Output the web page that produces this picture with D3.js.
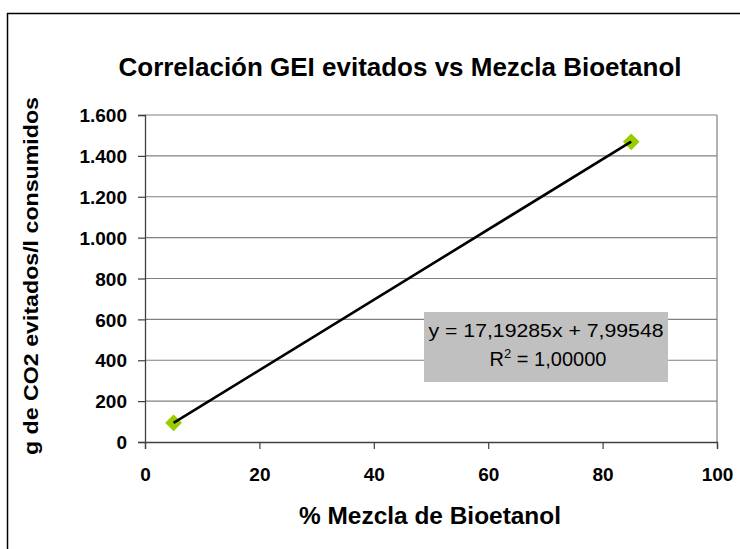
<!DOCTYPE html>
<html>
<head>
<meta charset="utf-8">
<script src="https://cdn.jsdelivr.net/npm/d3@7"></script>
<style>
  body { margin: 0; background: #fff; }
  svg { display: block; font-family: "Liberation Sans", Arial, sans-serif; }
</style>
</head>
<body>
<svg width="740" height="549"></svg>
<script>
// data
const mezcla = [5, 85];
const geiEvitados = [94, 1469];
const xTicks = [0, 20, 40, 60, 80, 100];
const yTicks = [0, 200, 400, 600, 800, 1000, 1200, 1400, 1600];
const slope = 17.19285;
const intercept = 7.99548;

const svg = d3.select('svg');
const W = +svg.attr('width');
const H = +svg.attr('height');

// outer chart border (runs off the page to the right and bottom)
svg.append('rect')
  .attr('x', 7.5).attr('y', 13.5)
  .attr('width', W).attr('height', H)
  .attr('fill', 'none').attr('stroke', '#000').attr('stroke-width', 1.5);

const x = d3.scaleLinear().domain([0, 100]).range([145, 717]);
const y = d3.scaleLinear().domain([0, 1600]).range([442, 115]);

// gridlines
svg.append('g').selectAll('line')
  .data(yTicks.slice(1))
  .enter().append('line')
  .attr('x1', x(0)).attr('x2', x(100))
  .attr('y1', d => y(d)).attr('y2', d => y(d))
  .attr('stroke', '#808080').attr('stroke-width', 1.2);

// right border of plot area
svg.append('line')
  .attr('x1', x(100)).attr('x2', x(100))
  .attr('y1', y(1600)).attr('y2', y(0))
  .attr('stroke', '#808080').attr('stroke-width', 1.2);

// axes
const yAxis = svg.append('g')
  .attr('transform', `translate(${x(0)},0)`)
  .call(d3.axisLeft(y).tickValues(yTicks).tickSize(7).tickPadding(11)
    .tickFormat(d => d3.format(',')(d).replace(/,/g, '.')));
const xAxis = svg.append('g')
  .attr('transform', `translate(0,${y(0)})`)
  .call(d3.axisBottom(x).tickValues(xTicks).tickSize(7).tickPadding(19));

[yAxis, xAxis].forEach(ax => {
  ax.select('.domain').attr('stroke', '#404040').attr('stroke-width', 1.3);
  ax.selectAll('.tick line').attr('stroke', '#404040').attr('stroke-width', 1.2);
  ax.selectAll('.tick text')
    .attr('fill', '#000')
    .style('font-size', '19px')
    .style('font-weight', 'bold')
    .style('font-family', '"Liberation Sans", Arial, sans-serif');
});
yAxis.selectAll('.tick text').attr('dy', '0.35em');

// trend line
const xs = d3.extent(mezcla);
const trend = d3.line()
  .x(d => x(d))
  .y(d => y(slope * d + intercept));

// markers
svg.append('g').selectAll('path')
  .data(mezcla)
  .enter().append('path')
  .attr('d', d3.symbol().type(d3.symbolSquare).size(140)())
  .attr('transform', (d, i) => `translate(${x(d)},${y(geiEvitados[i])}) rotate(45)`)
  .attr('fill', '#99CC00');

svg.append('path')
  .attr('d', trend(xs))
  .attr('fill', 'none')
  .attr('stroke', '#000').attr('stroke-width', 2.6);

// equation box
const box = svg.append('g');
box.append('rect')
  .attr('x', 424).attr('y', 312).attr('width', 244).attr('height', 70)
  .attr('fill', '#C0C0C0');
box.append('text')
  .attr('x', 546).attr('y', 336.5)
  .attr('text-anchor', 'middle')
  .attr('textLength', 235).attr('lengthAdjust', 'spacingAndGlyphs')
  .style('font-size', '19px')
  .text(`y = ${slope.toFixed(5).replace('.', ',')}x + ${intercept.toFixed(5).replace('.', ',')}`);
const r2 = box.append('text')
  .attr('x', 548).attr('y', 365.5)
  .attr('text-anchor', 'middle')
  .style('font-size', '20px');
r2.append('tspan').text('R');
r2.append('tspan').attr('dy', -8).style('font-size', '13px').text('2');
r2.append('tspan').attr('dy', 8).text(' = 1,00000');

// titles
svg.append('text')
  .attr('x', 400).attr('y', 76)
  .attr('text-anchor', 'middle')
  .attr('textLength', 563).attr('lengthAdjust', 'spacingAndGlyphs')
  .style('font-size', '25px').style('font-weight', 'bold')
  .text('Correlación GEI evitados vs Mezcla Bioetanol');

svg.append('text')
  .attr('x', 430).attr('y', 524)
  .attr('text-anchor', 'middle')
  .attr('textLength', 262).attr('lengthAdjust', 'spacingAndGlyphs')
  .style('font-size', '24px').style('font-weight', 'bold')
  .text('% Mezcla de Bioetanol');

svg.append('text')
  .attr('transform', 'translate(38,276) rotate(-90)')
  .attr('text-anchor', 'middle')
  .attr('textLength', 358).attr('lengthAdjust', 'spacingAndGlyphs')
  .style('font-size', '20px').style('font-weight', 'bold')
  .text('g de CO2 evitados/l consumidos');
</script>
</body>
</html>
